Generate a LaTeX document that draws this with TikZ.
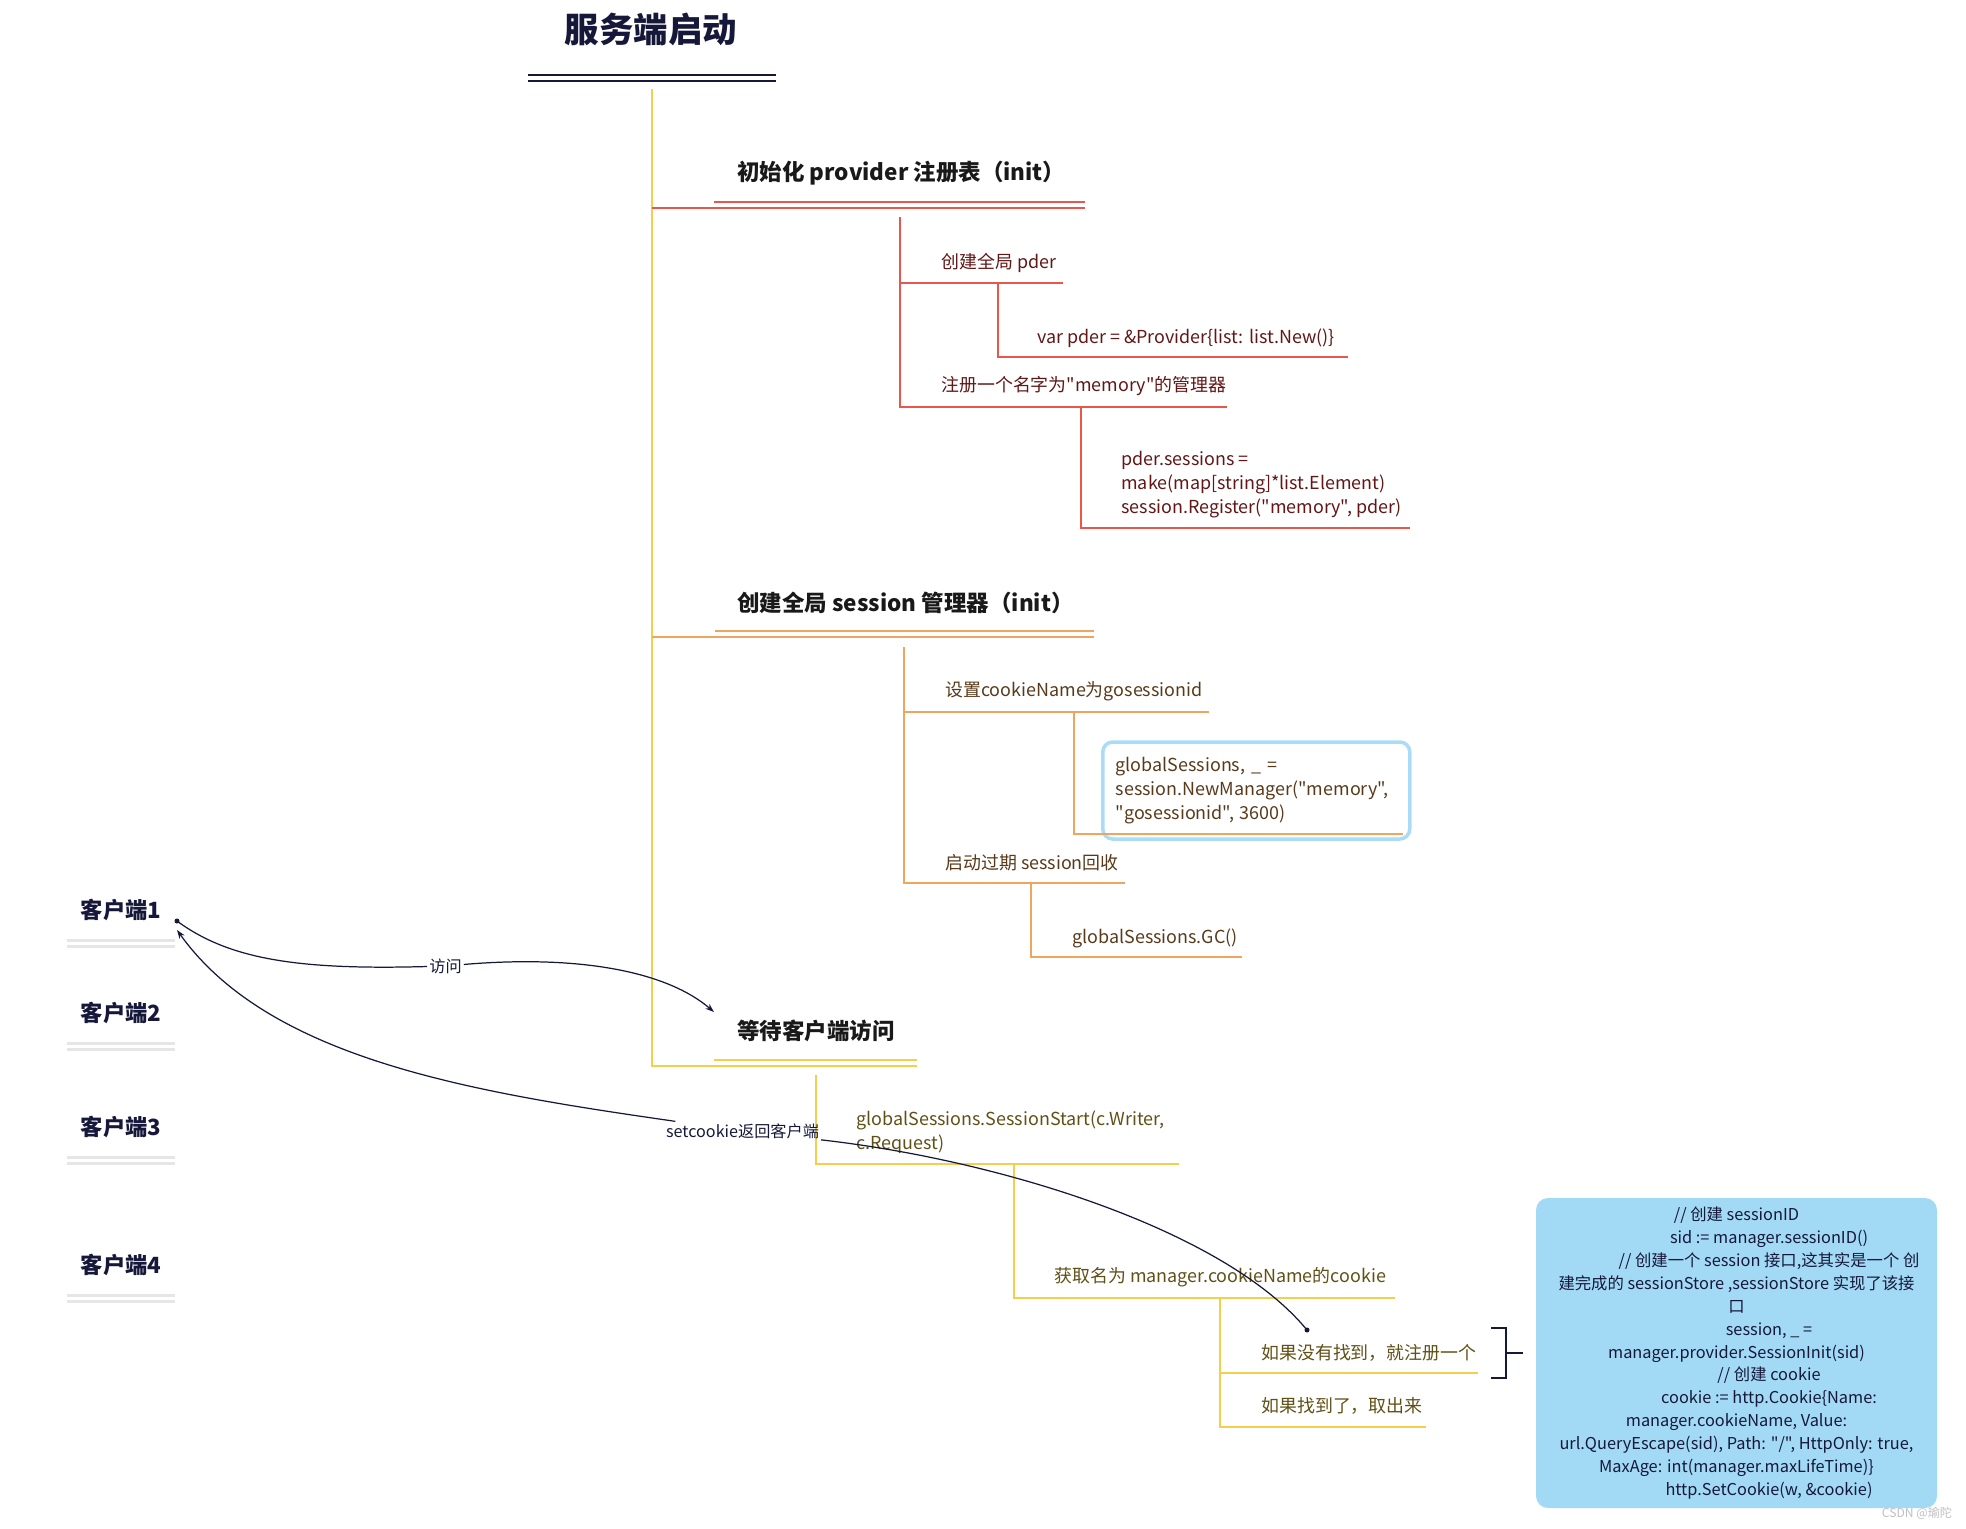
\documentclass[tikz,border=0pt]{standalone}
\usepackage{fontspec}
\setmainfont{Noto Sans CJK SC}[Ligatures=TeXOff]
\usetikzlibrary{arrows.meta}

\definecolor{navy}{RGB}{22,24,58}
\definecolor{mapyellow}{RGB}{245,207,75}
\definecolor{mapred}{RGB}{232,87,75}
\definecolor{maporange}{RGB}{238,165,94}
\definecolor{redtext}{RGB}{98,22,22}
\definecolor{orangetext}{RGB}{88,58,26}
\definecolor{yellowtext}{RGB}{96,80,22}
\definecolor{boxblue}{RGB}{162,218,245}
\definecolor{rimblue}{RGB}{170,220,250}
\definecolor{clientgray}{RGB}{230,230,230}

\tikzset{
	headline/.style={inner sep=0pt, font=\bfseries\fontsize{19.6}{22}\selectfont, text=navy},
	topic/.style={anchor=west, inner sep=0pt, font=\bfseries\fontsize{12.8}{15}\selectfont, text=black!90},
	leaf/.style={anchor=west, inner sep=0pt, align=left, font=\fontsize{10.2}{13.7}\selectfont},
	client/.style={inner sep=0pt, font=\bfseries\fontsize{12.7}{15}\selectfont, text=navy},
	flowlabel/.style={inner sep=1pt, font=\fontsize{9.2}{11}\selectfont, text=navy},
	branch/.style={line width=1.6pt},
	flow/.style={draw=navy, line width=0.7pt},
	tip/.style={-{Stealth[length=5pt,width=3.5pt]}}
}

\begin{document}
\begin{tikzpicture}
	\useasboundingbox (0,0) rectangle (39.32,-30.56);
	% title and trunk
	\node[headline] (title) at (13.02,-0.58) {服务端启动};
	\draw[branch, navy] (10.56,-1.50) -- (15.52,-1.50) (10.56,-1.62) -- (15.52,-1.62);
	\draw[branch, mapyellow] (13.04,-1.78) -- (13.04,-21.32) -- (18.34,-21.32);
	\draw[branch, mapyellow] (14.28,-21.20) -- (18.34,-21.20);
%
	% provider register
	\node[topic] (prov) at (14.74,-3.46) {初始化 provider 注册表（init）};
	\draw[branch, mapred] (14.28,-4.04) -- (21.70,-4.04) (13.04,-4.16) -- (21.70,-4.16);
	\draw[branch, mapred] (18.00,-4.34) -- (18.00,-8.14) -- (24.54,-8.14);
	\node[leaf, text=redtext] (pder) at (18.82,-5.26) {创建全局 pder};
	\draw[branch, mapred] (18.00,-5.66) -- (21.26,-5.66);
	\draw[branch, mapred] (19.96,-5.66) -- (19.96,-7.14) -- (26.96,-7.14);
	\node[leaf, text=redtext] (pdervar) at (20.74,-6.76) {var pder = \&Provider\{list: list.New()\}};
	\node[leaf, text=redtext] (reg) at (18.82,-7.72) {注册一个名字为"memory"的管理器};
	\draw[branch, mapred] (21.62,-8.14) -- (21.62,-10.56) -- (28.20,-10.56);
	\node[leaf, text=redtext] (regcode) at (22.42,-9.70) {pder.sessions =\\make(map[string]*list.Element)\\session.Register("memory", pder)};
%
	% session manager
	\node[topic] (mgr) at (14.74,-12.06) {创建全局 session 管理器（init）};
	\draw[branch, maporange] (14.30,-12.62) -- (21.88,-12.62) (13.04,-12.74) -- (21.88,-12.74);
	\draw[branch, maporange] (18.08,-12.94) -- (18.08,-17.66) -- (22.50,-17.66);
	\node[leaf, text=orangetext] (ckname) at (18.90,-13.82) {设置cookieName为gosessionid};
	\draw[branch, maporange] (18.08,-14.24) -- (24.18,-14.24);
	\node[leaf, text=orangetext, draw=rimblue, line width=2pt, rounded corners=0.2cm, text width=5.62cm, inner xsep=0.26cm, minimum height=1.94cm] (newmgr) at (22.02,-15.81) {globalSessions, \_ =\\session.NewManager("memory",\\"gosessionid", 3600)};
	\draw[branch, maporange] (21.48,-14.24) -- (21.48,-16.68) -- (28.06,-16.68);
	\node[leaf, text=orangetext] (gc) at (18.90,-17.26) {启动过期 session回收};
	\draw[branch, maporange] (20.62,-17.66) -- (20.62,-19.14) -- (24.84,-19.14);
	\node[leaf, text=orangetext] (gccall) at (21.44,-18.76) {globalSessions.GC()};
%
	% waiting for clients
	\node[topic] (wait) at (14.74,-20.62) {等待客户端访问};
	\draw[branch, mapyellow] (16.32,-21.50) -- (16.32,-23.28) -- (23.58,-23.28);
	\node[leaf, text=yellowtext] (start) at (17.12,-22.64) {globalSessions.SessionStart(c.Writer,\\c.Request)};
	\draw[branch, mapyellow] (20.28,-23.28) -- (20.28,-25.96) -- (27.90,-25.96);
	\node[leaf, text=yellowtext] (getck) at (21.08,-25.54) {获取名为 manager.cookieName的cookie};
	\draw[branch, mapyellow] (24.40,-25.96) -- (24.40,-28.54) -- (28.52,-28.54);
	\node[leaf, text=yellowtext] (notfound) at (25.22,-27.06) {如果没有找到，就注册一个};
	\draw[branch, mapyellow] (24.40,-27.46) -- (29.56,-27.46);
	\node[leaf, text=yellowtext] (found) at (25.22,-28.12) {如果找到了，取出来};
%
	% note on the new session
	\draw[branch, navy] (29.82,-26.56) -- (30.12,-26.56) -- (30.12,-27.56) -- (29.82,-27.56) (30.12,-27.06) -- (30.46,-27.06);
	\node[fill=boxblue, rounded corners=0.24cm, minimum width=8.02cm, minimum height=6.2cm, align=center, text=navy, font=\fontsize{9.3}{13}\selectfont] (note) at (34.73,-27.06) {// 创建 sessionID\\
		\hspace*{1.3cm}sid := manager.sessionID()\\
		\hspace*{1.3cm}// 创建一个 session 接口,这其实是一个 创\\
		建完成的 sessionStore ,sessionStore 实现了该接\\
		口\\
		\hspace*{1.3cm}session, \_ =\\
		manager.provider.SessionInit(sid)\\
		\hspace*{1.3cm}// 创建 cookie\\
		\hspace*{1.3cm}cookie := http.Cookie\{Name:\\
		manager.cookieName, Value:\\
		url.QueryEscape(sid), Path: "/", HttpOnly: true,\\
		MaxAge: int(manager.maxLifeTime)\}\\
		\hspace*{1.3cm}http.SetCookie(w, \&cookie)};
	\node[inner sep=0pt, text=black!25, font=\fontsize{6.9}{8}\selectfont] (mark) at (38.34,-30.26) {CSDN @瑜陀};
%
	% clients
	\foreach \i/\y in {1/-18.20, 2/-20.26, 3/-22.54, 4/-25.30} {
		\node[client] (c\i) at (2.42,\y) {客户端\i};
		\draw[branch, clientgray] (1.34,{\y-0.61}) -- (3.50,{\y-0.61}) (1.34,{\y-0.73}) -- (3.50,{\y-0.73});
	}
%
	% requests and replies
	\coordinate (visitfrom) at (3.54,-18.42);
	\coordinate (visitto) at (14.28,-20.24);
	\node[flowlabel] (visit) at (8.91,-19.32) {访问};
	\draw[flow] (visitfrom) .. controls (4.6,-19.2) and (6.0,-19.4) .. (visit);
	\draw[flow, tip] (visit) .. controls (11.5,-19.1) and (13.3,-19.4) .. (visitto);
	\fill[navy] (visitfrom) circle (0.05);
	\coordinate (ckfrom) at (26.14,-26.60);
	\coordinate (ckto) at (3.54,-18.60);
	\node[flowlabel] (setck) at (14.85,-22.62) {setcookie返回客户端};
	\draw[flow] (ckfrom) .. controls (24.5,-24.6) and (20.0,-23.2) .. (setck);
	\draw[flow, tip] (setck) .. controls (9.5,-21.85) and (5.4,-21.2) .. (ckto);
	\fill[navy] (ckfrom) circle (0.05);
\end{tikzpicture}
\end{document}
